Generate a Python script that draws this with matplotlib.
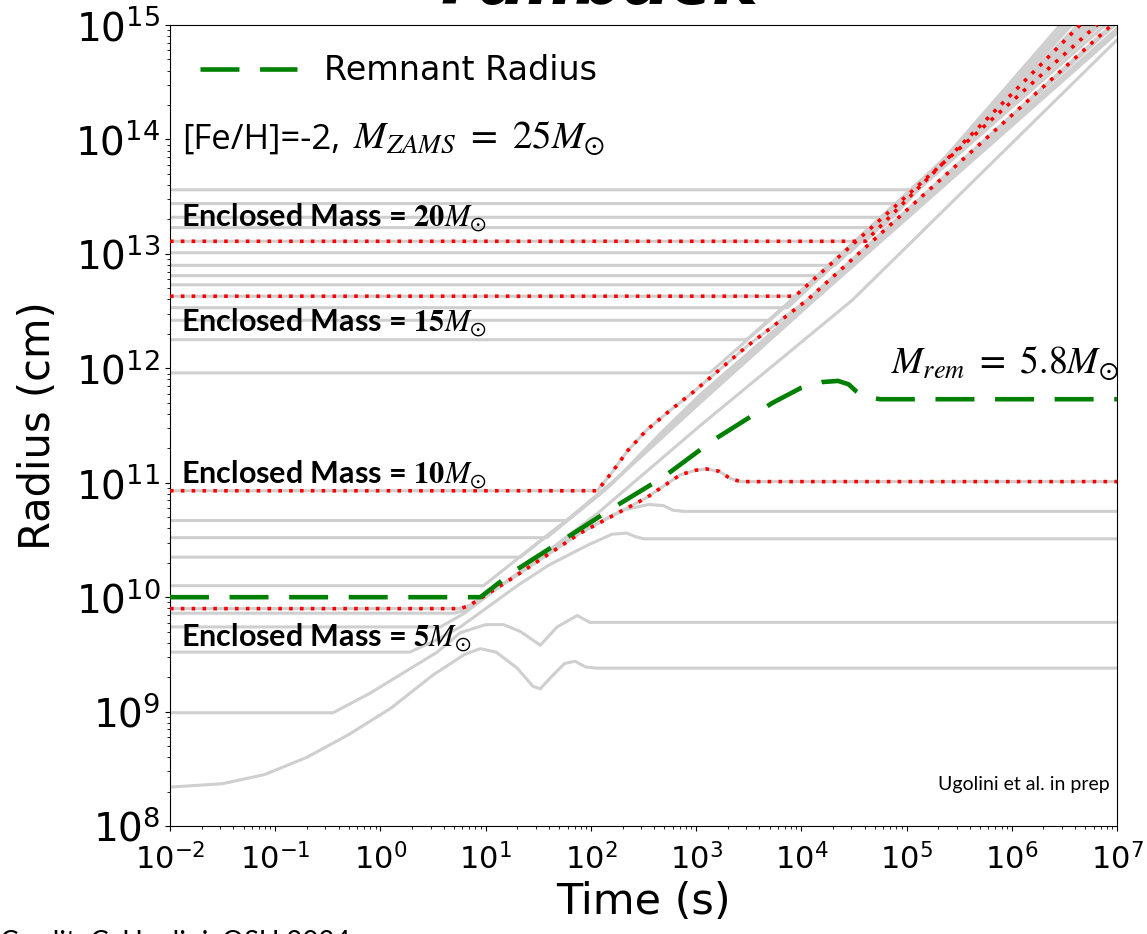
import matplotlib.pyplot as plt
import numpy as np

# outer shells: log10 initial radius, log10 time the shock reaches them,
# log10 time they leave the top of the plot (r = 1e15 cm)
outer_logr0 = [13.56, 13.44, 13.32, 13.23, 13.01, 12.90, 12.81, 12.73, 12.53, 12.42, 12.25, 11.96]
outer_logtb = [5.10, 4.99, 4.87, 4.77, 4.46, 4.32, 4.20, 4.06, 3.87, 3.70, 3.48, 3.13]
outer_logttop = [6.46, 6.50, 6.54, 6.57, 6.63, 6.67, 6.70, 6.73, 6.76, 6.79, 6.84, 6.89]

m20_logr0, m20_logtb, m20_logttop = 13.11, 4.61, 6.65
m15_logr0, m15_logtb, m15_logttop = 12.63, 3.94, 6.81

# tracks read point by point: log10 t [s], log10 r [cm]
mid_a_t = [-2, 0.98, 1.5, 2.06, 2.6, 3.04, 4.08, 7.0]
mid_a_r = [10.10, 10.10, 10.48, 10.88, 11.33, 11.70, 12.56, 14.93]
mid_b_t = [-2, 1.33, 1.7, 2.1, 2.6, 3.04, 4.08, 7.0]
mid_b_r = [10.35, 10.35, 10.62, 10.91, 11.35, 11.73, 12.58, 14.95]
mid_c_t = [-2, 1.58, 1.9, 2.2, 2.6, 3.04, 4.08, 7.0]
mid_c_r = [10.52, 10.52, 10.76, 10.99, 11.37, 11.75, 12.59, 14.97]
mid_d_t = [-2, 1.77, 2.0, 2.3, 2.65, 3.04, 4.08, 6.98]
mid_d_r = [10.67, 10.67, 10.85, 11.08, 11.42, 11.77, 12.60, 15.0]
m10_t = [-2, 2.06, 2.2, 2.35, 2.53, 2.75, 2.97, 3.48, 4.06, 6.95]
m10_r = [10.93, 10.93, 11.09, 11.28, 11.46, 11.63, 11.79, 12.19, 12.60, 15.0]

edge_t = [-2, 0.70, 0.79, 1.26, 2.06, 3.04, 4.49, 7.0]
edge_r = [9.86, 9.86, 9.88, 10.17, 10.73, 11.50, 12.60, 14.87]

m5_t = [-2, 0.76, 0.85, 1.26, 1.90, 2.53, 2.85, 3.0, 3.10, 3.22, 3.32, 3.42, 7.0]
m5_r = [9.90, 9.90, 9.93, 10.17, 10.56, 10.87, 11.07, 11.11, 11.12, 11.10, 11.04, 11.01, 11.01]

low_e_t = [-2, 0.57, 0.8, 1.0, 1.26, 1.6, 1.96, 2.3, 2.55, 2.69, 2.78, 2.88, 7.0]
low_e_r = [9.74, 9.74, 9.86, 10.0, 10.18, 10.40, 10.60, 10.76, 10.81, 10.80, 10.76, 10.75, 10.75]
low_d_t = [-2, 0.28, 0.54, 0.76, 1.0, 1.3, 1.6, 1.96, 2.2, 2.34, 2.42, 2.50, 7.0]
low_d_r = [9.52, 9.52, 9.63, 9.74, 9.90, 10.10, 10.28, 10.45, 10.55, 10.56, 10.53, 10.51, 10.51]
low_c_t = [-2, -0.45, -0.10, 0.22, 0.54, 0.76, 1.0, 1.17, 1.33, 1.52, 1.68, 1.87, 1.99, 7.0]
low_c_r = [8.99, 8.99, 9.16, 9.34, 9.52, 9.69, 9.76, 9.76, 9.70, 9.58, 9.74, 9.84, 9.78, 9.78]
low_b_t = [-2, -1.5, -1.1, -0.7, -0.3, 0.1, 0.5, 0.8, 0.95, 1.1, 1.3, 1.45, 1.52, 1.62, 1.75, 1.85, 1.95, 2.05, 7.0]
low_b_r = [8.34, 8.37, 8.45, 8.60, 8.80, 9.03, 9.32, 9.50, 9.55, 9.52, 9.38, 9.22, 9.20, 9.30, 9.42, 9.44, 9.39, 9.38, 9.38]

rem_t = [-2, 0.95, 1.26, 1.77, 2.21, 2.69, 3.16, 3.73, 4.0, 4.2, 4.35, 4.45, 4.52, 4.60, 4.75, 7.0]
rem_r = [10.0, 10.0, 10.22, 10.52, 10.78, 11.05, 11.37, 11.70, 11.83, 11.88, 11.89, 11.86, 11.80, 11.75, 11.73, 11.73]

gray = '#cfcfcf'
gray_kw = dict(color=gray, lw=2.2, zorder=1)
red_kw = dict(color='red', lw=2.6, linestyle=(0, (1, 2)), zorder=3)

fig = plt.figure(figsize=(11.47, 9.34), dpi=100)
ax = fig.add_axes([0.1482, 0.1156, 0.8256, 0.8576])


def track(lt, lr, **kw):
    ax.plot(10 ** np.array(lt, dtype=float), 10 ** np.array(lr, dtype=float), **kw)


for r0, tb, tt in zip(outer_logr0, outer_logtb, outer_logttop):
    track([-2, tb, tt], [r0, r0, 15], **gray_kw)

for r0, tb, tt in [(m20_logr0, m20_logtb, m20_logttop), (m15_logr0, m15_logtb, m15_logttop)]:
    track([-2, tb, tt], [r0, r0, 15], **gray_kw)
    track([-2, tb, tt], [r0, r0, 15], **red_kw)

for lt, lr in [(mid_a_t, mid_a_r), (mid_b_t, mid_b_r), (mid_c_t, mid_c_r), (mid_d_t, mid_d_r),
               (edge_t, edge_r), (low_e_t, low_e_r), (low_d_t, low_d_r),
               (low_c_t, low_c_r), (low_b_t, low_b_r)]:
    track(lt, lr, **gray_kw)

for lt, lr in [(m10_t, m10_r), (m5_t, m5_r)]:
    track(lt, lr, **gray_kw)
    track(lt, lr, **red_kw)

track(rem_t, rem_r, color='green', lw=3.3, dashes=(8.5, 4.5), zorder=4, label='Remnant Radius')

ax.set_xscale('log')
ax.set_yscale('log')
ax.set_xlim(1e-2, 1e7)
ax.set_ylim(1e8, 1e15)
ax.set_xticks([10.0 ** k for k in range(-2, 8)])
ax.set_yticks([10.0 ** k for k in range(8, 16)])
ax.tick_params(axis='x', labelsize=22, pad=9)
ax.tick_params(axis='y', labelsize=28)
ax.set_xlabel('Time (s)', fontsize=31, labelpad=4)
ax.set_ylabel('Radius (cm)', fontsize=30, labelpad=12)

ax.legend(loc='upper left', bbox_to_anchor=(0.018, 0.980), fontsize=24, frameon=False,
          handlelength=2.9, borderaxespad=0)

ax.text(0.0127, 0.846, '[Fe/H]=-2,', transform=ax.transAxes,
        fontsize=25, family='Open Sans', va='baseline')
ax.text(0.193, 0.846, r'$M_{ZAMS}\ =\ 25M_{\odot}$', transform=ax.transAxes,
        fontsize=28, math_fontfamily='stix', va='baseline')

lab_kw = dict(transform=ax.transAxes, fontsize=22, family='Lato', weight='bold',
              math_fontfamily='stix', va='baseline', zorder=6)
ax.text(0.0116, 0.750, r'Enclosed Mass = $\mathbf{20}\mathit{M}_{\odot}$', **lab_kw)
ax.text(0.0116, 0.619, r'Enclosed Mass = $\mathbf{15}\mathit{M}_{\odot}$', **lab_kw)
ax.text(0.0116, 0.4295, r'Enclosed Mass = $\mathbf{10}\mathit{M}_{\odot}$', **lab_kw)
ax.text(0.0116, 0.226, r'Enclosed Mass = $\mathbf{5}\mathit{M}_{\odot}$', **lab_kw)

ax.text(1.002, 0.5655, r'$M_{rem}\ =\ 5.8M_{\odot}$', transform=ax.transAxes, fontsize=27,
        math_fontfamily='stix', ha='right', va='baseline', zorder=6)
ax.text(0.9926, 0.045, 'Ugolini et al. in prep', transform=ax.transAxes, fontsize=14,
        family='Lato', ha='right', va='baseline')

fig.text(0.523, 0.996, 'Fallback', ha='center', va='baseline', fontsize=50,
         weight='bold', style='italic')
fig.text(0.0, -0.018, 'Credit: C. Ugolini, OSU 2024', ha='left', va='baseline',
         fontsize=20, family='Lato')

fig.savefig('out.png', dpi=100)
